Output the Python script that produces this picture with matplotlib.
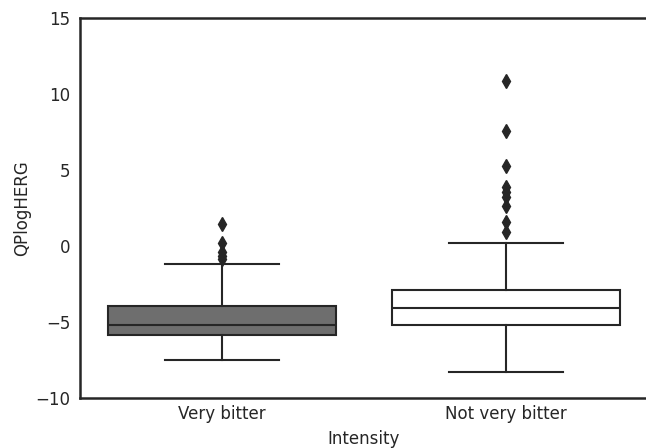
import matplotlib
matplotlib.use("Agg")
import matplotlib.pyplot as plt

categories = ["Very bitter", "Not very bitter"]
whislo = [-7.5, -8.3]
q1 = [-5.86, -5.2]
med = [-5.2, -4.06]
q3 = [-3.95, -2.9]
whishi = [-1.2, 0.22]
fliers = [
    [1.45, 0.2, -0.4, -0.66, -0.86],
    [10.88, 7.57, 5.28, 3.9, 3.57, 3.24, 2.63, 1.6, 0.94],
]
box_colors = ["#6e6e6e", "#ffffff"]
yticks = [-10, -5, 0, 5, 10, 15]

stats = []
for i, c in enumerate(categories):
    stats.append(dict(label=c, whislo=whislo[i], q1=q1[i], med=med[i],
                      q3=q3[i], whishi=whishi[i], fliers=fliers[i]))

fig = plt.figure(figsize=(6.46, 4.48), dpi=100)
ax = fig.add_axes([80/646, 50/448, 568/646, 380/448])
edge = "#262626"
bp = ax.bxp(stats, positions=range(len(categories)), widths=0.8,
            patch_artist=True, showfliers=True,
            boxprops=dict(edgecolor=edge, linewidth=1.5),
            medianprops=dict(color=edge, linewidth=1.5),
            whiskerprops=dict(color=edge, linewidth=1.5),
            capprops=dict(color=edge, linewidth=1.5),
            flierprops=dict(marker="d", markerfacecolor=edge, markeredgecolor=edge,
                            markersize=7, linestyle="none"),
            capwidths=0.4)
for patch, col in zip(bp["boxes"], box_colors):
    patch.set_facecolor(col)

ax.set_xlim(-0.5, 1.5)
ax.set_ylim(-10, 15)
ax.set_yticks(yticks)
ax.set_xticks(range(len(categories)))
ax.set_xticklabels(categories)
ax.tick_params(axis="x", length=0, labelsize=12, colors="#262626", pad=5)
ax.tick_params(axis="y", length=0, labelsize=12, colors="#262626", pad=7)
for s in ax.spines.values():
    s.set_linewidth(1.8)
    s.set_color("#262626")
ax.spines["right"].set_visible(False)
ax.set_xlabel("Intensity", fontsize=12, color="#262626", labelpad=5)
ax.set_ylabel("QPlogHERG", fontsize=12, color="#262626", labelpad=3)
fig.savefig("out.png", dpi=100)
